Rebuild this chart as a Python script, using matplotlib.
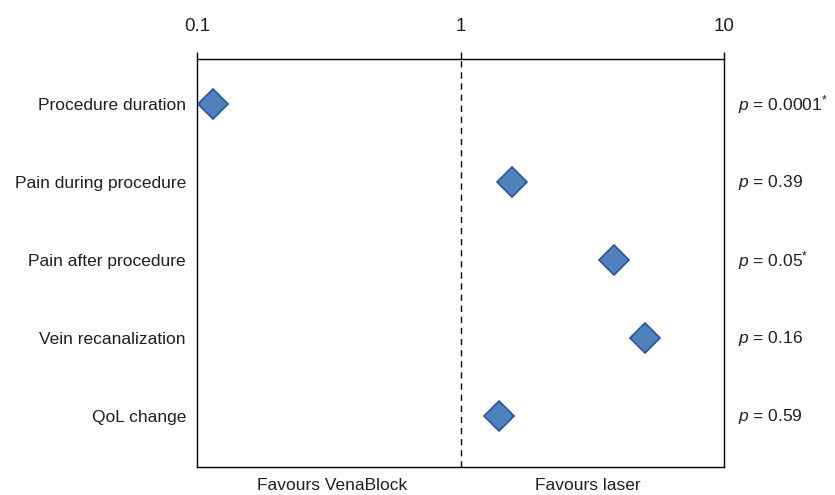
#!/usr/bin/env python3
"""Forest-style plot of odds ratios, VenaBlock versus laser."""

import matplotlib

matplotlib.use("Agg")
import matplotlib.pyplot as plt
from matplotlib.ticker import FixedLocator, NullLocator
from matplotlib.transforms import blended_transform_factory

FONT_LIST = ["Liberation Sans", "DejaVu Sans"]
FONT_SIZE = 12.5
TEXT_COLOR = "#231F20"
MARKER_FACE = "#4F81BD"
MARKER_EDGE = "#2A52A0"

outcomes = [
    "Procedure duration",
    "Pain during procedure",
    "Pain after procedure",
    "Vein recanalization",
    "QoL change",
]
ratios = [0.115, 1.57, 3.83, 5.02, 1.40]
p_values = ["0.0001", "0.39", "0.05", "0.16", "0.59"]
significant = [True, False, True, False, False]
x_ticks = [0.1, 1, 10]
x_tick_labels = ["0.1", "1", "10"]
side_labels = ["Favours VenaBlock", "Favours laser"]


def main() -> int:
    plt.rcParams["font.family"] = FONT_LIST
    plt.rcParams["font.size"] = FONT_SIZE
    plt.rcParams["text.color"] = TEXT_COLOR
    plt.rcParams["xtick.labelcolor"] = TEXT_COLOR
    plt.rcParams["ytick.labelcolor"] = TEXT_COLOR
    plt.rcParams["mathtext.fontset"] = "custom"
    plt.rcParams["mathtext.rm"] = "Liberation Sans"
    plt.rcParams["mathtext.it"] = "Liberation Sans:italic"

    fig = plt.figure(figsize=(8.35, 4.95), dpi=100)
    ax = fig.add_axes([0.236, 0.0566, 0.631, 0.8242])

    rows = list(range(len(outcomes)))
    ax.plot(
        ratios,
        rows,
        linestyle="none",
        marker="D",
        markersize=15,
        markerfacecolor=MARKER_FACE,
        markeredgecolor=MARKER_EDGE,
        markeredgewidth=1.2,
        zorder=3,
    )
    ax.axvline(1, color="black", linestyle=(0, (4.5, 3.5)), linewidth=1.0, zorder=1)

    ax.set_xscale("log")
    ax.set_xlim(0.1, 10)
    ax.set_ylim(4.65, -0.58)
    ax.xaxis.set_major_locator(FixedLocator(x_ticks))
    ax.xaxis.set_minor_locator(NullLocator())
    ax.set_xticklabels(x_tick_labels)
    ax.xaxis.tick_top()
    ax.tick_params(axis="x", length=5, width=1.0, pad=12, labelsize=FONT_SIZE + 1)

    ax.set_yticks(rows)
    ax.set_yticklabels(outcomes)
    ax.tick_params(axis="y", length=0, pad=8, labelsize=FONT_SIZE)

    for spine in ax.spines.values():
        spine.set_linewidth(1.0)

    for row, p_text, star in zip(rows, p_values, significant):
        label = r"$\it{p}$ = " + p_text + (r"$^{*}$" if star else "")
        ax.text(
            1.026,
            row,
            label,
            transform=ax.get_yaxis_transform(),
            ha="left",
            va="center",
            fontsize=FONT_SIZE,
        )

    bottom_transform = blended_transform_factory(ax.transAxes, fig.transFigure)
    for x_frac, text in zip([0.256, 0.741], side_labels):
        ax.text(
            x_frac,
            0.004,
            text,
            transform=bottom_transform,
            ha="center",
            va="bottom",
            fontsize=FONT_SIZE,
        )

    fig.savefig("out.png", dpi=100)
    plt.close(fig)
    return 0


if __name__ == "__main__":
    raise SystemExit(main())
